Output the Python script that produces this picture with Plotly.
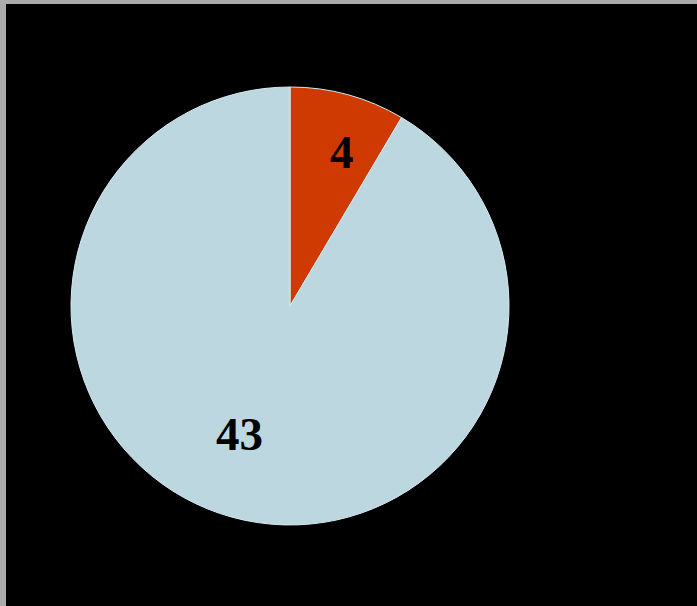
import math
import plotly.graph_objects as go

categories = ["A", "B"]
values = [4, 43]
colors = ["#cf3a02", "#bdd7e1"]

W, H = 697, 606
cx, cy, r = 290, 306, 219

# label placement (radius fraction, angular nudge in degrees) per slice
label_r = [0.73, 0.64]
label_nudge = [3.5, 6.0]

fig = go.Figure(go.Pie(
    labels=categories,
    values=values,
    sort=False,
    direction="clockwise",
    rotation=0,
    marker=dict(colors=colors, line=dict(color="#d8e9ef", width=1)),
    textinfo="none",
    hoverinfo="skip",
    showlegend=False,
    domain=dict(x=[(cx - r) / W, (cx + r) / W], y=[1 - (cy + r) / H, 1 - (cy - r) / H]),
))

total = sum(values)
start = 0.0
for v, fr, nd in zip(values, label_r, label_nudge):
    mid = start + v / total * 360 / 2 + nd
    start += v / total * 360
    a = math.radians(mid)
    px = cx + fr * r * math.sin(a)
    py = cy - fr * r * math.cos(a)
    fig.add_annotation(
        x=px / W, y=1 - py / H, xref="paper", yref="paper",
        xanchor="center", yanchor="middle", yshift=3,
        text=str(v), showarrow=False,
        font=dict(family="Liberation Serif", size=47, color="#000000", weight="bold"),
    )

fig.update_layout(
    width=W, height=H,
    margin=dict(l=0, r=0, t=0, b=0),
    paper_bgcolor="#000000",
    plot_bgcolor="#000000",
    shapes=[
        dict(type="rect", xref="paper", yref="paper", x0=0, x1=1, y0=1 - 4 / H, y1=1,
             fillcolor="#aaaaaa", line=dict(width=0)),
        dict(type="rect", xref="paper", yref="paper", x0=0, x1=6 / W, y0=0, y1=1,
             fillcolor="#aaaaaa", line=dict(width=0)),
    ],
)

fig.write_html("out.html", config={"displayModeBar": False},
               post_script="document.body.style.margin='0';")
